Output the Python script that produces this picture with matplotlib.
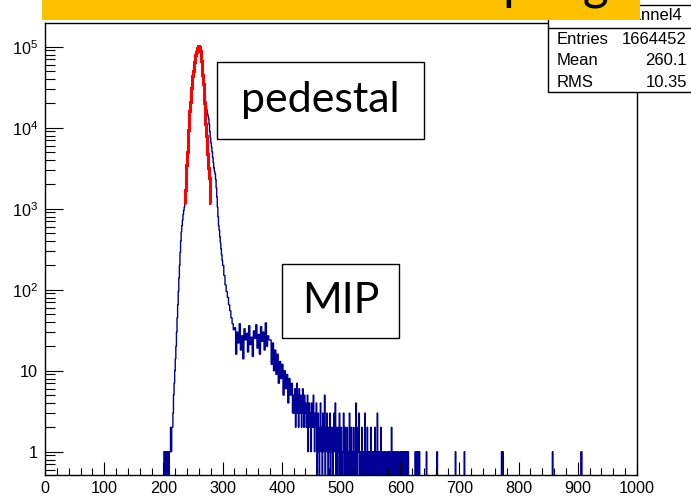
import numpy as np
import matplotlib
matplotlib.use("Agg")
import matplotlib.pyplot as plt
from matplotlib.patches import Rectangle
from matplotlib.ticker import FixedLocator, FixedFormatter, NullFormatter

plt.rcParams['font.family'] = ['Liberation Sans', 'DejaVu Sans']
plt.rcParams['mathtext.fontset'] = 'custom'
plt.rcParams['mathtext.rm'] = 'Liberation Sans'

# ADC histogram
peak_start = 200           # bins of width 1 from 200 to 300
peak_counts = [1, 0, 1, 1, 0, 1, 0, 1, 1, 0, 1, 1, 2, 1,
               2, 2, 3, 5, 7, 10, 14, 20, 30, 45, 65, 95, 140, 200, 290, 400, 520, 620, 720, 850, 950, 1050,
               1200, 1700, 2500, 3500, 5000, 7000, 9500, 12500, 16000, 20500, 25500, 31000, 37000, 43500,
               50000, 57000, 64000, 71000, 78000, 85000, 91000, 96000, 99500, 101000,
               100000, 97000, 92000, 85000, 76000, 66000, 56000, 46000, 37000, 30000, 25000, 21000, 18500,
               16500, 15000, 14000, 13000, 11000, 9000, 7500, 6500, 5800, 5000, 4300, 3700, 3200, 2900,
               2700, 2300, 1800, 1400, 1050, 800, 620, 540, 450, 380, 320, 270, 230]
mid_start = 300            # bins of width 2 from 300 to 420
mid_counts = [200, 150, 115, 95, 80, 65, 55, 45, 38, 32,
              34, 16, 30, 22, 38, 18, 27, 14, 33, 24, 29, 17, 36, 21, 26, 15, 31, 25, 37, 19,
              28, 16, 35, 23, 30, 18, 39, 20, 27, 24,
              24, 12, 22, 10, 18, 9, 16, 7, 13, 8, 12, 5, 10, 6, 9, 4, 8, 5, 7, 3]
tail_start = 420           # bins of width 1 from 420 to 640
tail_counts = [5, 3, 6, 2, 4, 7, 3, 5, 2, 6, 4, 3, 5, 2, 4, 6, 3, 2, 5, 3,
               4, 2, 3, 5, 1, 3, 4, 2, 3, 1, 4, 2, 3, 5, 2, 1, 3, 2, 4, 0,
               2, 3, 1, 0, 2, 4, 1, 2, 0, 3, 1, 2, 5, 0, 1, 2, 3, 1, 0, 2,
               1, 3, 0, 2, 1, 2, 0, 1, 3, 1, 4, 0, 2, 1, 0, 2, 1, 3, 0, 1,
               2, 0, 1, 1, 3, 0, 2, 1, 0, 1, 2, 0, 1, 0, 3, 1, 0, 2, 1, 0,
               1, 2, 0, 1, 0, 4, 1, 0, 2, 1, 3, 0, 1, 0, 1, 2, 0, 1, 0, 1,
               3, 0, 1, 0, 2, 1, 0, 1, 0, 1, 2, 0, 1, 1, 0, 1, 0, 2, 0, 1,
               0, 3, 1, 0, 1, 0, 1, 2, 0, 1, 0, 0, 1, 0, 1, 1, 0, 0, 1, 0,
               1, 0, 1, 0, 0, 2, 0, 1, 0, 1, 0, 0, 1, 0, 1, 0, 0, 1, 0, 0,
               1, 0, 1, 1, 0, 1, 0, 1, 1, 0, 1, 0, 1, 1, 0, 0, 0, 0, 0, 0,
               0, 0, 0, 0, 0, 1, 0, 1, 1, 0, 1, 0, 1, 0, 0, 0, 0, 0, 0, 0]
single_bins = [644, 662, 693, 708, 771, 773, 857, 905, 906]   # one entry each

# gaussian fit of the pedestal (red), bins 236..279
fit_start = 236
fit_counts = [1150, 1700, 2500, 3500, 5000, 7000, 9500, 12500, 16000, 20500, 25500, 31000, 37000,
              43500, 50000, 57000, 64000, 71000, 78000, 85000, 91000, 96000, 99500, 101000,
              100000, 96000, 89000, 79000, 67000, 56000, 45000, 35000, 27000, 20000, 15000, 11000,
              8000, 6000, 4800, 3900, 3200, 2400, 1700, 1170]

stats_labels = ["Entries", "Mean", "RMS"]
stats_values = ["1664452", "260.1", "10.35"]

# build edges / values
edges = list(np.arange(peak_start, mid_start + 1))
vals = list(peak_counts)
edges += list(np.arange(mid_start + 2, tail_start + 1, 2))
vals += mid_counts
edges += list(np.arange(tail_start + 1, 641))
vals += tail_counts
far = np.zeros(360)
for b in single_bins:
    far[b - 640] = 1
edges += list(np.arange(641, 1001))
vals += list(far)
edges = np.array(edges, dtype=float)
vals = np.array(vals, dtype=float)
vals_plot = np.where(vals > 0, vals, 1e-2)

fit_edges = np.arange(fit_start, fit_start + len(fit_counts) + 1)

W, H = 691, 498
fig = plt.figure(figsize=(W / 100, H / 100), dpi=100)
ax = fig.add_axes([45 / W, (H - 475) / H, (637 - 45) / W, (475 - 22.7) / H])

ax.stairs(vals_plot, edges, baseline=None, color='#000096', lw=1.0)
ax.stairs(fit_counts, fit_edges, baseline=None, color='#ff0000', lw=2.2)

ax.set_yscale('log')
ax.set_xlim(0, 1000)
ax.set_ylim(0.5157, 1.98e5)

ax.xaxis.set_major_locator(FixedLocator(np.arange(0, 1001, 100)))
ax.xaxis.set_minor_locator(FixedLocator(np.arange(0, 1001, 20)))
ax.yaxis.set_major_locator(FixedLocator([1, 10, 100, 1e3, 1e4, 1e5]))
ax.yaxis.set_major_formatter(FixedFormatter(['1', '10', r'$10^{2}$', r'$10^{3}$', r'$10^{4}$', r'$10^{5}$']))
minors = [m * 10.0 ** d for d in range(-1, 6) for m in range(2, 10)]
ax.yaxis.set_minor_locator(FixedLocator(minors))
ax.yaxis.set_minor_formatter(NullFormatter())

ax.tick_params(axis='x', which='major', direction='in', length=9.5, width=0.8, pad=4, labelsize=11.7)
ax.tick_params(axis='x', which='minor', direction='in', length=5, width=0.8)
ax.tick_params(axis='y', which='major', direction='in', length=13, width=0.8, pad=5, labelsize=11.7)
ax.tick_params(axis='y', which='minor', direction='in', length=7, width=0.8)
for s in ax.spines.values():
    s.set_linewidth(1.0)

# boxes with labels
def fbox(x0, y0, x1, y1, **kw):
    return Rectangle((x0 / W, 1 - y1 / H), (x1 - x0) / W, (y1 - y0) / H,
                     transform=fig.transFigure, **kw)

fig.patches.append(fbox(217, 61.7, 424, 139, facecolor='white', edgecolor='black', lw=1.0, zorder=5))
fig.text((217 + 424) / 2 / W, 1 - 100 / H, "pedestal", fontsize=31, family=['Lato', 'DejaVu Sans'],
         ha='center', va='center', zorder=6)
fig.patches.append(fbox(282, 264, 399, 338, facecolor='white', edgecolor='black', lw=1.0, zorder=5))
fig.text((282 + 399) / 2 / W, 1 - 301 / H, "MIP", fontsize=31, family=['Lato', 'DejaVu Sans'],
         ha='center', va='center', zorder=6)

# stats box
fig.patches.append(fbox(548, 5, 700, 92, facecolor='white', edgecolor='black', lw=1.0, zorder=5))
fig.add_artist(plt.Line2D([548 / W, 1], [1 - 28 / H, 1 - 28 / H], transform=fig.transFigure,
                          color='black', lw=1.0, zorder=6))
fig.text(682 / W, 1 - 16 / H, "channel4", fontsize=12, ha='right', va='center', zorder=6)
for i, (lab, v) in enumerate(zip(stats_labels, stats_values)):
    yy = 1 - (39 + i * 21.5) / H
    fig.text(557 / W, yy, lab, fontsize=12, ha='left', va='center', zorder=6)
    fig.text(687 / W, yy, v, fontsize=12, ha='right', va='center', zorder=6)

# yellow title banner, text mostly cut off at the top (as in the slide)
fig.patches.append(fbox(42, -5, 640, 20, facecolor='#ffc000', edgecolor='none', zorder=8))
fig.text(609 / W, 1 + 2 / H, "ADC distribution with sampling", fontsize=36,
         family=['Lato', 'DejaVu Sans'], ha='right', va='baseline', zorder=9)

fig.savefig("out.png", dpi=100)
